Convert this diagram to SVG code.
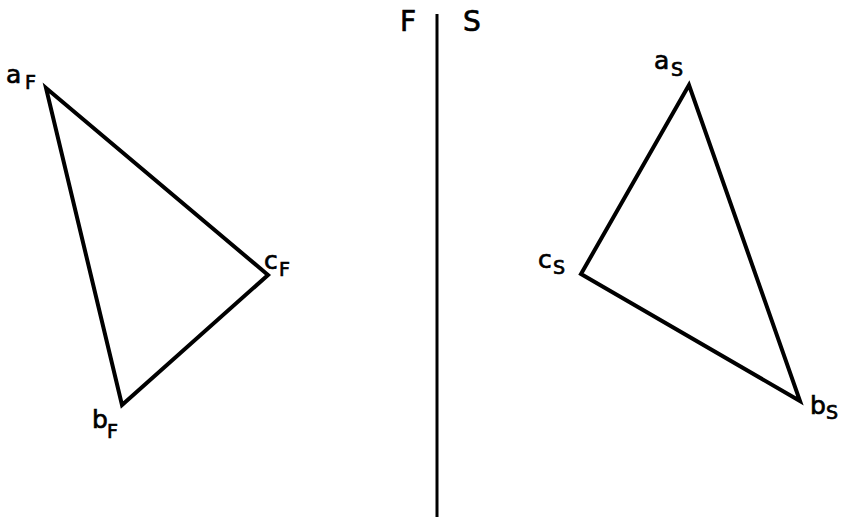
<svg xmlns="http://www.w3.org/2000/svg" width="845" height="517" viewBox="0 0 845 517">
<style>
.e{stroke:#000;stroke-width:4;fill:none;stroke-linejoin:miter;stroke-linecap:round}
.v{stroke:#000;stroke-width:3;fill:none}
text{font-family:"DejaVu Sans",sans-serif;fill:#000;stroke:#000;stroke-width:0.7}
.l{font-size:25px}
.s{font-size:19px}
.t{font-size:28px}
</style>
<rect width="845" height="517" fill="#fff"/>
<g id="connectors">
<line class="v" x1="437" y1="14" x2="437" y2="517"/>
</g>
<g id="triangleF">
<polygon class="e" points="46,88 268,275 122,405"/>
</g>
<g id="triangleS">
<polygon class="e" points="689,85 581,274 800,401"/>
</g>
<g id="labels">
<text class="t" x="400" y="31">F</text>
<text class="t" x="463" y="31">S</text>
<text class="l" x="6" y="83">a</text><text class="s" x="25" y="89">F</text>
<text class="l" x="264" y="269">c</text><text class="s" x="279" y="276">F</text>
<text class="l" x="92" y="428">b</text><text class="s" x="107" y="438">F</text>
<text class="l" x="654" y="69">a</text><text class="s" x="671" y="76">S</text>
<text class="l" x="538" y="268">c</text><text class="s" x="553" y="274">S</text>
<text class="l" x="810" y="414">b</text><text class="s" x="826" y="419">S</text>
</g>
</svg>
